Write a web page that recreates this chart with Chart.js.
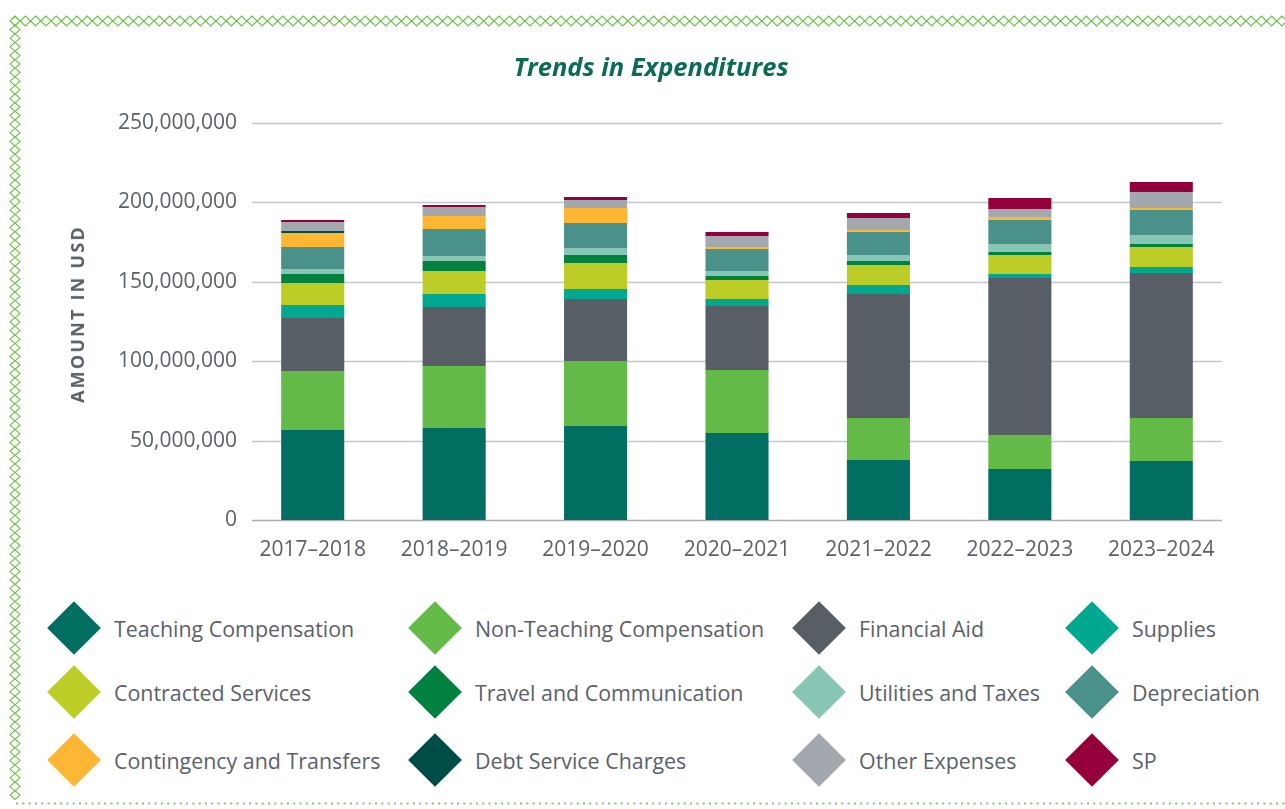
<!DOCTYPE html>
<html>
<head>
<meta charset="utf-8">
<title>Trends in Expenditures</title>
<script src="https://cdn.jsdelivr.net/npm/chart.js@4.4.1/dist/chart.umd.min.js"></script>
<style>
  html, body { margin: 0; padding: 0; background: #ffffff; }
  #wrap { position: relative; width: 1285px; height: 809px; overflow: hidden; font-family: "Open Sans", "DejaVu Sans", sans-serif; }
  #frame { position: absolute; left: 0; top: 0; }
  #chart { position: absolute; left: 0; top: 0; }
  #title { position: absolute; left: 0; width: 1302px; top: 49px; text-align: center;
           font-weight: 700; font-style: italic; font-size: 25.5px; color: #0b6b55; }
  #ytitle { position: absolute; left: 77px; top: 314px; transform: translate(-50%, -50%) rotate(-90deg);
            white-space: nowrap; font-weight: 700; font-size: 18px; letter-spacing: 2.2px; color: #595f66; }
  #legend { position: absolute; left: 47px; top: 601px; display: grid;
            grid-template-columns: 361px 384px 273px 210px; grid-template-rows: 64px 68px 54px; }
  .item { display: flex; align-items: center; height: 54px; }
  .mark { width: 54px; height: 54px; display: flex; align-items: center; justify-content: center; flex: none; }
  .mark span { display: block; width: 38px; height: 38px; transform: rotate(45deg); }
  .label { margin-left: 13px; font-size: 21.4px; color: #5b6169; white-space: nowrap; }
</style>
</head>
<body>
<div id="wrap">
  <svg id="frame" width="1285" height="809"></svg>
  <canvas id="chart" width="1285" height="585"></canvas>
  <div id="title">Trends in Expenditures</div>
  <div id="ytitle">AMOUNT IN USD</div>
  <div id="legend"></div>
</div>
<script>
// Fiscal years on the category axis
const years = ["2017–2018", "2018–2019", "2019–2020", "2020–2021", "2021–2022", "2022–2023", "2023–2024"];

// Expenditure categories, bottom of the stack first
const seriesNames = [
  "Teaching Compensation", "Non-Teaching Compensation", "Financial Aid", "Supplies",
  "Contracted Services", "Travel and Communication", "Utilities and Taxes", "Depreciation",
  "Contingency and Transfers", "Debt Service Charges", "Other Expenses", "SP"
];
const seriesColors = [
  "#006f62", "#63ba46", "#575e66", "#00a88f",
  "#bccd27", "#008140", "#87c6b4", "#4a9189",
  "#fdb734", "#004d47", "#a2a8ae", "#94003c"
];

// Amounts in USD per year
const teachingCompensation    = [56700000, 57900000, 59200000, 54800000, 37800000, 32100000, 37200000];
const nonTeachingCompensation = [37100000, 39100000, 40900000, 39700000, 26400000, 21400000, 27000000];
const financialAid            = [33400000, 37100000, 39100000, 40300000, 78100000, 98900000, 91300000];
const supplies                = [8200000, 8200000, 6300000, 4400000, 5700000, 2500000, 3800000];
const contractedServices      = [13800000, 14500000, 16300000, 11900000, 12600000, 12000000, 12600000];
const travelCommunication     = [5700000, 6300000, 5100000, 2600000, 2500000, 1900000, 1900000];
const utilitiesTaxes          = [3200000, 3100000, 4400000, 3100000, 3800000, 5000000, 5700000];
const depreciation            = [13800000, 17000000, 15700000, 13900000, 14500000, 15100000, 15700000];
const contingencyTransfers    = [8800000, 8200000, 9500000, 1200000, 1200000, 1900000, 1300000];
const debtServiceCharges      = [1300000, 0, 0, 0, 0, 0, 0];
const otherExpenses           = [5700000, 5700000, 5000000, 6900000, 7600000, 5000000, 10000000];
const spExpenses              = [1200000, 1300000, 1900000, 2600000, 3100000, 7000000, 6300000];

// Value axis ticks
const yTicks = [0, 50000000, 100000000, 150000000, 200000000, 250000000];

const seriesValues = [
  teachingCompensation, nonTeachingCompensation, financialAid, supplies,
  contractedServices, travelCommunication, utilitiesTaxes, depreciation,
  contingencyTransfers, debtServiceCharges, otherExpenses, spExpenses
];

// Decorative frame: diamond chain along top and left, dotted rule at the bottom
(function drawFrame() {
  const svg = document.getElementById("frame");
  const ns = "http://www.w3.org/2000/svg";
  const stroke = "#6cc04a";
  let d = "";
  for (let x = 15; x < 1295; x += 10.3) {
    d += `M${x},16 L${x + 5.1},21 L${x},26 L${x - 5.1},21 Z `;
  }
  for (let y = 21; y < 800; y += 8.6) {
    d += `M15,${y - 4.4} L20,${y} L15,${y + 4.4} L10,${y} Z `;
  }
  const p = document.createElementNS(ns, "path");
  p.setAttribute("d", d);
  p.setAttribute("fill", "none");
  p.setAttribute("stroke", stroke);
  p.setAttribute("stroke-width", "1.1");
  svg.appendChild(p);
  const line = document.createElementNS(ns, "line");
  line.setAttribute("x1", "16"); line.setAttribute("x2", "1285");
  line.setAttribute("y1", "803.5"); line.setAttribute("y2", "803.5");
  line.setAttribute("stroke", "#7ccc5a");
  line.setAttribute("stroke-width", "2");
  line.setAttribute("stroke-dasharray", "2 4.3");
  svg.appendChild(line);
})();

// Legend, four columns
(function buildLegend() {
  const host = document.getElementById("legend");
  seriesNames.forEach((name, i) => {
    const item = document.createElement("div");
    item.className = "item";
    item.innerHTML = `<div class="mark"><span style="background:${seriesColors[i]}"></span></div><div class="label">${name}</div>`;
    host.appendChild(item);
  });
})();

// Horizontal grid drawn inset from the plot edges
const insetGrid = {
  id: "insetGrid",
  beforeDatasetsDraw(chart) {
    const { ctx, chartArea, scales } = chart;
    ctx.save();
    yTicks.forEach(v => {
      const y = Math.round(scales.y.getPixelForValue(v)) + 0.5;
      ctx.beginPath();
      ctx.moveTo(chartArea.left + 10, y);
      ctx.lineTo(chartArea.right - 10, y);
      ctx.lineWidth = 1.6;
      ctx.strokeStyle = v === 0 ? "#a9adb2" : "#c3c6ca";
      ctx.stroke();
    });
    ctx.restore();
  }
};

new Chart(document.getElementById("chart"), {
  type: "bar",
  data: {
    labels: years,
    datasets: seriesNames.map((name, i) => ({
      label: name,
      data: seriesValues[i],
      backgroundColor: seriesColors[i],
      borderWidth: 0,
      barPercentage: 0.446,
      categoryPercentage: 1.0
    }))
  },
  options: {
    responsive: false,
    animation: false,
    layout: { padding: { left: 0, right: 53, top: 123, bottom: 0 } },
    plugins: { legend: { display: false }, title: { display: false }, tooltip: { enabled: false } },
    scales: {
      x: {
        stacked: true,
        grid: { display: false, drawTicks: false },
        border: { display: false },
        ticks: { color: "#5b6169", padding: 17, font: { family: "Open Sans", size: 21 }, maxRotation: 0 },
        afterFit: s => { s.height = 65; }
      },
      y: {
        stacked: true,
        min: 0,
        max: 250000000,
        afterBuildTicks: s => { s.ticks = yTicks.map(v => ({ value: v })); },
        grid: { display: false, drawTicks: false },
        border: { display: false },
        ticks: {
          color: "#5b6169",
          padding: 5,
          font: { family: "Open Sans", size: 21 },
          callback: v => Number(v).toLocaleString("en-US")
        },
        afterFit: s => { s.width = 242; }
      }
    }
  },
  plugins: [insetGrid]
});
</script>
</body>
</html>
